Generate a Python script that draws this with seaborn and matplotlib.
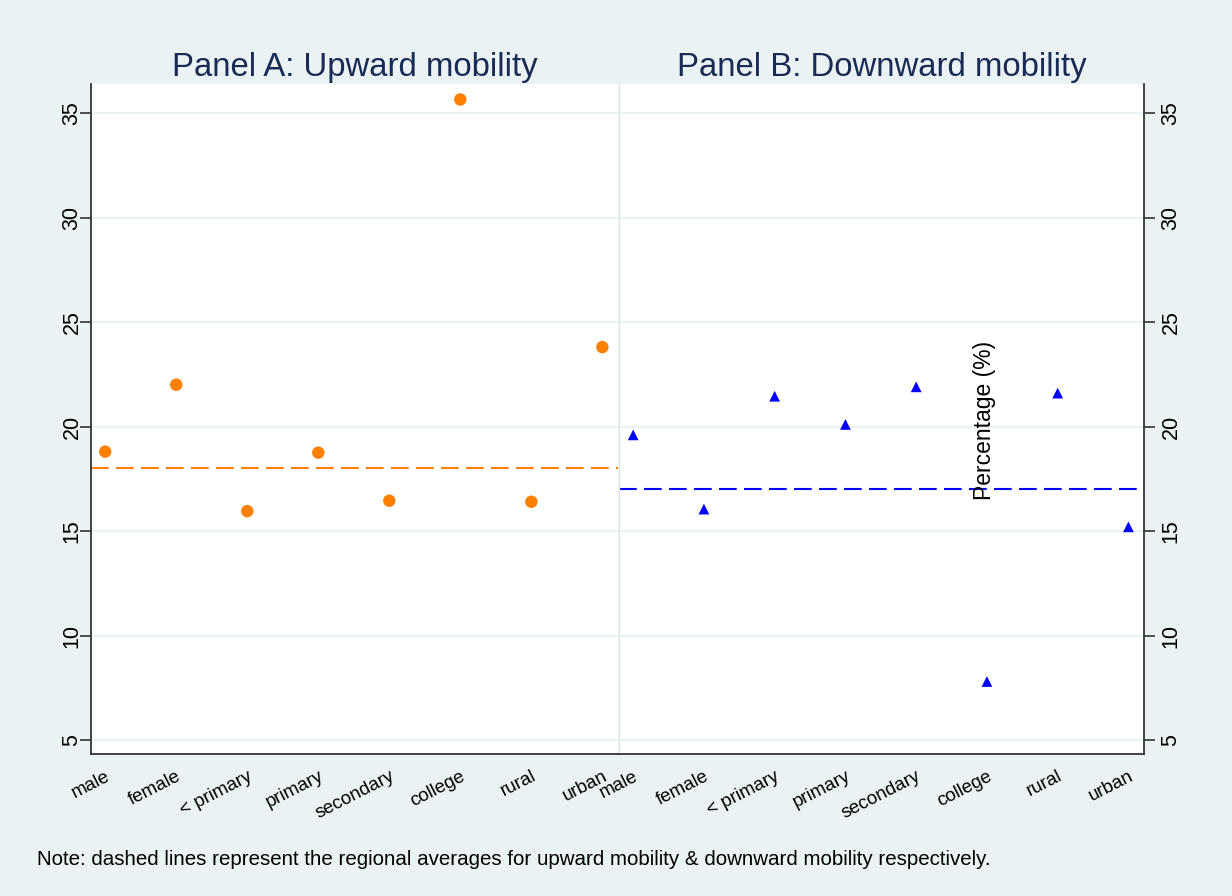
import matplotlib
matplotlib.use("Agg")
import matplotlib.pyplot as plt
import seaborn as sns
import pandas as pd

# -------------------------------
# DATA
# -------------------------------
groups = ["male", "female", "< primary", "primary", "secondary", "college", "rural", "urban"]
upward = [18.8, 22.0, 15.95, 18.75, 16.45, 35.65, 16.4, 23.8]
downward = [19.6, 16.05, 21.45, 20.1, 21.9, 7.8, 21.6, 15.2]
upward_avg = 18.0
downward_avg = 17.0
y_ticks = [5, 10, 15, 20, 25, 30, 35]

BG = "#EAF2F3"
TITLE_COLOR = "#1A2A52"
ORANGE = "#FF8000"
BLUE = "#0000FF"

sns.set_theme(style="white")
plt.rcParams["font.family"] = ["Liberation Sans", "DejaVu Sans"]

df_up = pd.DataFrame({"group": groups, "value": upward})
df_down = pd.DataFrame({"group": groups, "value": downward})

fig = plt.figure(figsize=(12.32, 8.96), dpi=100, facecolor=BG)
ax1 = fig.add_axes([91 / 1232, 142 / 896, 527 / 1232, 670 / 896])
ax2 = fig.add_axes([619 / 1232, 142 / 896, 525 / 1232, 670 / 896])


def style_panel(ax, side):
    ax.set_facecolor("white")
    ax.set_ylim(4.33, 36.39)
    ax.set_xlim(-0.2, 7.22)
    ax.set_yticks(y_ticks)
    ax.set_yticklabels([str(t) for t in y_ticks], rotation=90, va="center",
                       fontsize=15.5, color="black")
    ax.yaxis.grid(True, color=BG, linewidth=1.6)
    ax.set_axisbelow(True)
    ax.set_xticks(range(len(groups)))
    ax.set_xticklabels(groups, rotation=27, ha="right", rotation_mode="anchor",
                       fontsize=13.5, color="black")
    ax.tick_params(axis="both", length=8, width=1.2, color="#333333", direction="out", pad=3)
    ax.tick_params(axis="x", pad=2)
    ax.set_xlabel("")
    ax.set_ylabel("")
    for s in ax.spines.values():
        s.set_linewidth(1.3)
        s.set_color("#333333")
    ax.spines["top"].set_visible(False)
    if side == "left":
        ax.spines["right"].set_visible(False)
        ax.yaxis.tick_left()
        ax.tick_params(axis="y", pad=-2)
    else:
        ax.spines["left"].set_color("#E2E8EA")
        ax.spines["left"].set_linewidth(1.0)
        ax.yaxis.tick_right()
        ax.tick_params(axis="y", left=False, right=True, pad=4)


sns.scatterplot(data=df_up, x="group", y="value", ax=ax1, color=ORANGE,
                marker="o", s=80, edgecolor="none", zorder=3)
ax1.axhline(upward_avg, color=ORANGE, linewidth=1.5, dashes=(8.5, 3.5), zorder=2)
style_panel(ax1, "left")
ax1.set_title("Panel A: Upward mobility", fontsize=23.7, color=TITLE_COLOR, pad=6)

sns.scatterplot(data=df_down, x="group", y="value", ax=ax2, color=BLUE,
                marker="^", s=60, edgecolor="none", zorder=3)
ax2.axhline(downward_avg, color=BLUE, linewidth=1.5, dashes=(8.5, 3.5), zorder=2)
style_panel(ax2, "right")
ax2.set_title("Panel B: Downward mobility", fontsize=23.7, color=TITLE_COLOR, pad=6)

# stray y-axis title as in the original
fig.text(985 / 1232, 1 - 420 / 896, "Percentage (%)", rotation=90,
         ha="center", va="center", fontsize=16.5, color="black")

fig.text(37 / 1232, 1 - 859 / 896,
         "Note: dashed lines represent the regional averages for upward mobility & downward mobility respectively.",
         ha="left", va="center", fontsize=14.8, color="black")

fig.savefig("out.png", dpi=100, facecolor=BG)
